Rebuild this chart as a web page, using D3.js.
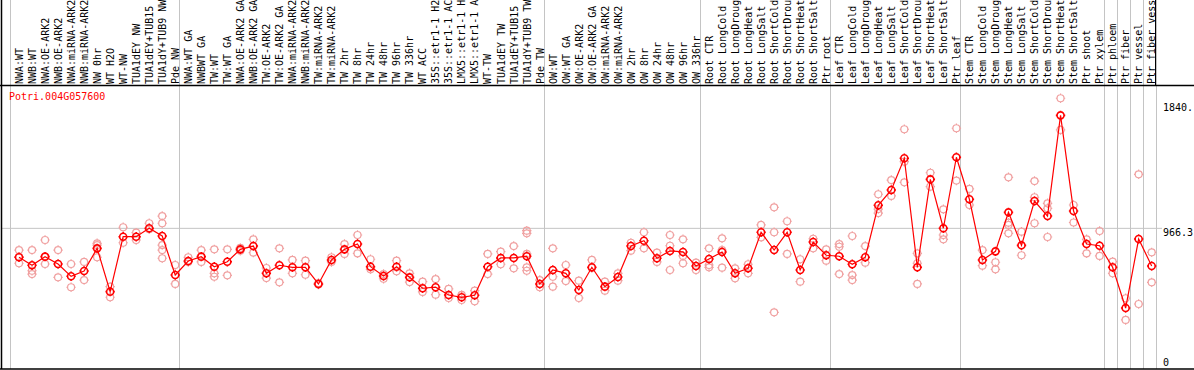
<!DOCTYPE html>
<html>
<head>
<meta charset="utf-8">
<script src="https://cdn.jsdelivr.net/npm/d3@7"></script>
<style>
body{margin:0;background:#fff;}
svg{display:block;font-family:"DejaVu Sans Mono",monospace;font-size:10px;}
</style>
</head>
<body>
<svg id="plot" width="1194" height="370"></svg>
<script>
var gene = "Potri.004G057600";

// sample names as shown (cut to 14 characters)
var samples = ["NWA:WT","NWB:WT","NWA:OE-ARK2","NWB:OE-ARK2","NWA:miRNA-ARK2","NWB:miRNA-ARK2","NW 0hr","WT H2O","WT-NW","TUA1dEY NW","TUA1dEY+TUB15","TUA1dY+TUB9 NW","Pde NW",
	"NWA:WT GA","NWBWT GA","TW:WT","TW:WT GA","NWA:OE-ARK2 GA","NWB:OE-ARK2 GA","TW:OE-ARK2","TW:OE-ARK2 GA","NWA:miRNA-ARK2","NWB:miRNA-ARK2","TW:miRNA-ARK2","TW:miRNA-ARK2","TW 2hr","TW 8hr","TW 24hr","TW 48hr","TW 96hr","TW 336hr","WT ACC","35S::etr1-1 H2","35S::etr1-1 AC","LMX5::etr1-1 H","LMX5::etr1-1 A","WT-TW","TUA1dEY TW","TUA1dEY+TUB15","TUA1dY+TUB9 TW","Pde TW",
	"OW:WT","OW:WT GA","OW:OE-ARK2","OW:OE-ARK2 GA","OW:miRNA-ARK2","OW:miRNA-ARK2","OW 2hr","OW 8hr","OW 24hr","OW 48hr","OW 96hr","OW 336hr",
	"Root CTR","Root LongCold","Root LongDroug","Root LongHeat","Root LongSalt","Root ShortCold","Root ShortDrou","Root ShortHeat","Root ShortSalt","Ptr root",
	"Leaf CTR","Leaf LongCold","Leaf LongDroug","Leaf LongHeat","Leaf LongSalt","Leaf ShortCold","Leaf ShortDrou","Leaf ShortHeat","Leaf ShortSalt","Ptr leaf",
	"Stem CTR","Stem LongCold","Stem LongDroug","Stem LongHeat","Stem LongSalt","Stem ShortCold","Stem ShortDrou","Stem ShortHeat","Stem ShortSalt","Ptr shoot","Ptr xylem",
	"Ptr phloem","Ptr fiber","Ptr vessel","Ptr fiber vess"];

var means = [765,709,769,718,632,669,827,525,908,908,967,913,641,
	739,769,699,734,820,843,653,709,695,695,579,746,820,857,699,634,699,625,549,556,502,486,500,699,760,760,772,579,
	676,653,537,695,560,627,843,880,758,809,802,704,
	753,802,653,688,939,815,939,676,871,779,
	772,716,765,1127,1234,1455,695,1308,967,1462,
	1169,746,806,1078,848,1157,1052,1754,1087,857,845,
	695,411,892,704];

var reps = [[815,723,767],[815,671,648],[885,718],[815,625],[718,556],[732,606],[862,765,850],[560,486],[974,866],[936,885],[1002,960],[1052,1002,850,815,758],[711,579],
	[765,732],[815,732],[820,653,629],[820,639],[830,810],[890,797],[620,690],[827,590],[746,653],[741,643],[585,575],[765,732],[857,788],[920,792],[751,681],[648,615],[741,667],[653,592],[595,523],[613,504],[544,481],[502,467],[532,458],[788,648],[804,716],[843,688],[950,932,788,695,671],[606,556],
	[827,629,560],[711,599],[602,481],[746,690],[595,532],[653,602],[866,811],[939,827],[797,732],[920,845,676],[890,774,723],[727,676],
	[827,711,695],[897,815,692],[688,618],[716,653],[990,904],[1113,939,381],[1016,788],[751,595],[894,827],[820,741],
	[857,838,648],[913,641,606],[843,727],[1204,1101,1073],[1303,1192],[1657,1431,1287],[792,723,579],[1354,1257],[1099,920,890],[1664,1299],
	[1241,1129],[815,706],[730,681],[1322,990,932,1006],[943,779],[1296,1183,1002],[1141,1106,906],[1873,1652],[1129,1007],[890,792],[948,774],
	[734,653],[479,328],[1343,439],[799,590]];

// index of first sample in each group, last entry closes the chart
var groupStarts = [0,13,41,53,63,73,84,85,86,87,88];

var yTicks = [1840, 966.3, 0];
var yTickLabels = ["1840.", "966.3", "0"];

var svg = d3.select("#plot");
var W = 1194, H = 370, labelBottom = 85, plotBottom = 369;

var x = d3.scaleLinear().domain([0, samples.length]).range([10, 1155.7]);
var y = d3.scaleLinear().domain([0, 1840]).range([367, 103]);
var px = function(i) { return x(i) + 9; };

// gridlines
svg.append("line")
	.attr("x1", 1).attr("x2", 1162)
	.attr("y1", y(966.3)).attr("y2", y(966.3))
	.attr("stroke", "#c4c4c4");

svg.selectAll(".sep")
	.data(groupStarts)
	.enter()
	.append("line")
	.attr("class", "sep")
	.attr("x1", function(d) { return Math.round(x(d)) + 0.5; })
	.attr("x2", function(d) { return Math.round(x(d)) + 0.5; })
	.attr("y1", 0).attr("y2", plotBottom)
	.attr("stroke", "#c4c4c4");

// frame
svg.append("line").attr("x1", 0).attr("x2", W).attr("y1", labelBottom + 0.5).attr("y2", labelBottom + 0.5).attr("stroke", "#000").attr("stroke-width", 1.5);
svg.append("line").attr("x1", 0).attr("x2", W).attr("y1", plotBottom).attr("y2", plotBottom).attr("stroke", "#000").attr("stroke-width", 1.5);
svg.append("line").attr("x1", 1.5).attr("x2", 1.5).attr("y1", 0).attr("y2", plotBottom).attr("stroke", "#000").attr("stroke-width", 1.5);
svg.append("line").attr("x1", 1155.5).attr("x2", 1155.5).attr("y1", 0).attr("y2", labelBottom).attr("stroke", "#000");

// sample labels
svg.selectAll(".lab")
	.data(samples)
	.enter()
	.append("text")
	.attr("class", "lab")
	.attr("transform", function(d, i) { return "translate(" + (x(i) + 12.8) + "," + (labelBottom - 1) + ") rotate(-90)"; })
	.attr("fill", "#000")
	.text(function(d) { return d; });

svg.append("text")
	.attr("x", 9).attr("y", 99.5)
	.attr("fill", "red")
	.text(gene);

// y labels on the right
svg.selectAll(".ylab")
	.data(yTicks)
	.enter()
	.append("text")
	.attr("class", "ylab")
	.attr("x", 1163)
	.attr("y", function(d) { return Math.min(y(d) + 7.5, 365.5); })
	.text(function(d, i) { return yTickLabels[i]; });

function marker(r, t) {
	return "M" + (-r) + ",0a" + r + "," + r + " 0 1,0 " + (2 * r) + ",0a" + r + "," + r + " 0 1,0 " + (-2 * r) + ",0" +
		"M0," + (-r - t) + "v" + t + "M0," + r + "v" + t + "M" + (-r - t) + ",0h" + t + "M" + r + ",0h" + t;
}

var repPts = [];
reps.forEach(function(arr, i) { arr.forEach(function(v) { repPts.push({i: i, v: v}); }); });

svg.selectAll(".rep")
	.data(repPts)
	.enter()
	.append("path")
	.attr("class", "rep")
	.attr("transform", function(d) { return "translate(" + px(d.i) + "," + y(d.v) + ")"; })
	.attr("d", marker(3.5, 1.2))
	.attr("fill", "none")
	.attr("stroke", "#f0a0a0")
	.attr("stroke-width", 1.2);

var line = d3.line()
	.x(function(d, i) { return px(i); })
	.y(function(d) { return y(d); });

svg.append("path")
	.datum(means)
	.attr("d", line)
	.attr("fill", "none")
	.attr("stroke", "red")
	.attr("stroke-width", 1.2);

svg.selectAll(".mean")
	.data(means)
	.enter()
	.append("path")
	.attr("class", "mean")
	.attr("transform", function(d, i) { return "translate(" + px(i) + "," + y(d) + ")"; })
	.attr("d", marker(3.5, 1.2))
	.attr("fill", "none")
	.attr("stroke", "red")
	.attr("stroke-width", 1.6);
</script>
</body>
</html>
